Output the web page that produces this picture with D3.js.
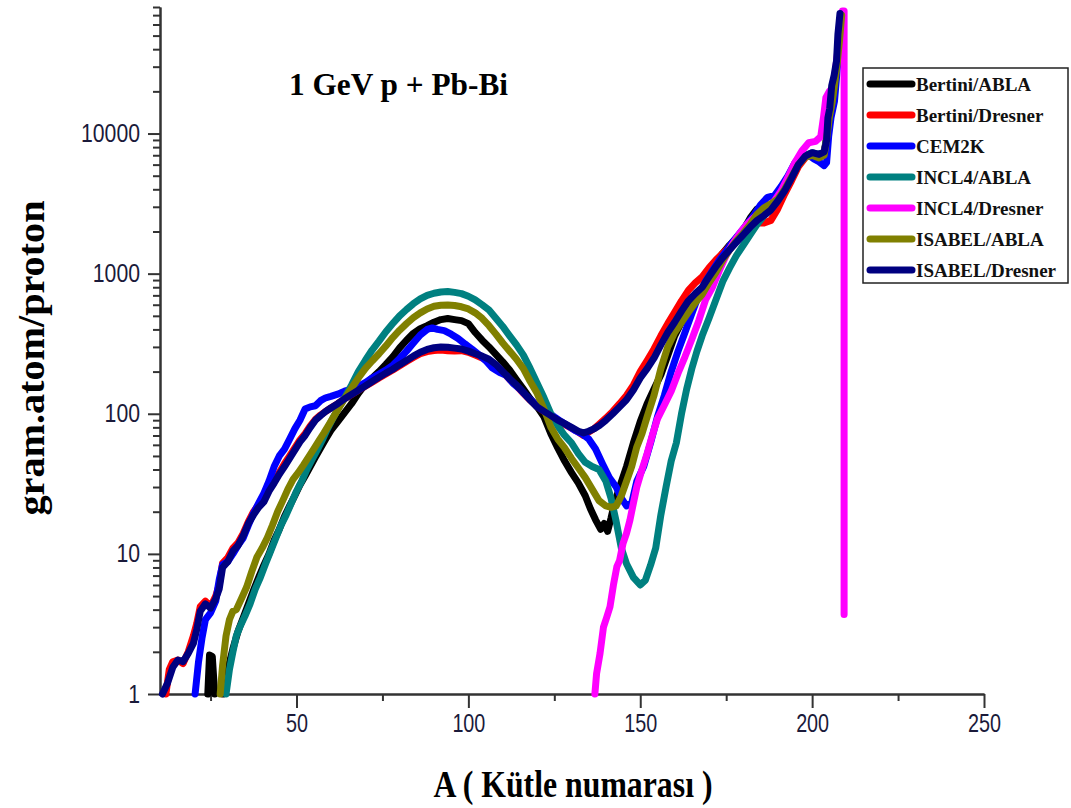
<!DOCTYPE html>
<html lang="tr">
<head>
<meta charset="UTF-8">
<title>1 GeV p + Pb-Bi</title>
<script src="https://d3js.org/d3.v7.min.js"></script>
<style>
  body { margin: 0; background: #fff; }
</style>
</head>
<body>
<div id="chart"></div>
<script>

// mass distributions, [A, gram.atom/proton]
var bertiniAbla = [[24.2,1],[24.7,1.9],[25.5,1.85],[26.2,1],[26.2,null],[28.6,1],[30,1.5],[31.5,2.1],[33,2.8],[34.5,3.5],[36,4.4],[37.5,5.5],[39,6.8],[40.5,8.3],[42,10],[43.5,12.5],[45,15],[46.5,18.5],[48,22],[49.5,26],[51,31],[52.5,36],[54,42],[55.5,49],[57,57],[58.5,66],[60,76],[62,88],[64,102],[66,118],[68,140],[70,162],[72,180],[74,200],[76,225],[78,255],[80,295],[82,335],[84,375],[86,405],[88,425],[90,450],[92,470],[94,478],[96,470],[98,462],[100,440],[102,380],[104,335],[106,300],[108,265],[110,235],[112,205],[114,175],[116,150],[118,128],[120,112],[122,95],[124,72],[126,57],[128,46],[130,38],[132,32],[134,26],[135.5,21],[137,17.5],[138.5,15],[139.5,16.5],[140.5,14.5],[141.5,18],[142.5,23],[144,30],[146,42],[148,62],[150,88],[152,118],[154,150],[156,190],[158,260],[160,360],[162,450],[164,540],[166,640],[168,760],[170,1000],[172,1200],[174,1400],[176,1600],[178,1800],[180,2050],[182,2500],[184,2900],[186,2950],[188,3050],[190,3300],[192,3900],[194,4800],[196,6000],[198,6800],[200,7100],[202,6900],[203.5,7200],[204.3,9500],[205,13000],[205.8,16500],[206.6,23000],[207.3,32000],[208,47000],[208.6,70000]]

var bertiniDresner = [[12,1],[13,1.5],[14,1.7],[15.5,1.75],[17,1.65],[18.5,2.0],[20,2.6],[21,3.2],[22,4.2],[23.5,4.6],[25,4.2],[26.5,5.0],[27.5,6],[28.5,8.6],[30,9.4],[31.5,11],[33,12],[34.5,14],[36,17],[37.5,20],[39,22.5],[40.5,24.5],[42,29],[43.5,33],[45,38],[46.5,44],[48,50],[49.5,57],[51,65],[52.5,72],[54,82],[55.5,91],[57,98],[58.5,104],[60,110],[62,118],[64,128],[66,137],[68,147],[70,157],[72,168],[74,180],[76,192],[78,205],[80,220],[82,236],[84,252],[86,268],[88,278],[90,283],[92,285],[94,282],[96,280],[98,282],[100,275],[102,262],[104,250],[106,240],[108,220],[110,198],[112,176],[114,158],[116,140],[118,125],[120,113],[122,104],[124,97],[126,90],[128,84],[130,79],[132,74],[133.5,70],[135,74],[136.5,78],[138,84],[140,93],[142,104],[144,118],[146,135],[148,160],[150,200],[152,240],[154,290],[156,360],[158,440],[160,530],[162,640],[164,760],[166,860],[168,950],[170,1100],[172,1250],[174,1400],[176,1560],[178,1760],[180,1950],[182,2150],[184,2300],[186,2300],[188,2400],[190,2900],[192,3700],[194,4600],[196,5800],[198,6700],[200,7200],[202,7000],[203.5,7300],[204.3,9500],[205,13000],[205.8,16500],[206.6,23000],[207.3,32000],[208,47000],[208.6,70000]]

var cem2k = [[20.5,1],[21.5,1.7],[22.5,2.5],[23.5,3.4],[25,3.8],[26.5,4.6],[27.5,6.5],[28.5,8.4],[30,8.8],[31.5,10],[33,11.5],[34.5,13],[36,16],[37.5,19.5],[39,23],[40.5,27],[42,33],[43.5,42],[45,50],[46.5,56],[48,66],[49.5,78],[51,90],[52.5,108],[54,112],[55.5,114],[57,124],[58.5,130],[60,133],[62,138],[64,145],[66,150],[68,157],[70,167],[72,180],[74,192],[76,205],[78,222],[80,248],[82,280],[84,320],[86,365],[88,400],[89.5,410],[91,400],[93,392],[95,370],[97,345],[99,315],[101,290],[103,265],[105,240],[107,212],[109,198],[111,188],[113,165],[115,150],[117,133],[119,120],[121,112],[123,103],[125,95],[127,88],[129,82],[131,76],[133,72],[135,66],[137,56],[139,44],[141,35],[143,30],[144.5,25],[146,22],[147.5,23],[149,33],[151,42],[153,62],[155,95],[157,135],[159,200],[161,280],[163,380],[165,520],[167,700],[169,880],[171,1050],[173,1250],[175,1450],[177,1700],[179,1950],[181,2250],[183,2600],[185,3100],[187,3500],[189,3600],[191,4200],[193,5000],[195,6200],[197,7000],[199,7000],[200.5,6600],[202,6300],[203.5,5900],[204.2,6200],[204.8,9500],[205.5,13000],[206.5,17000],[207.2,27000],[207.8,40000],[208.4,65000]]

var incl4Abla = [[29.5,1],[30.5,1.5],[31.5,2.0],[32.5,2.6],[33.5,3.0],[35,3.6],[36.5,4.4],[38,5.6],[39.5,6.8],[41,8.5],[42.5,10.5],[44,13],[45.5,16],[47,19],[48.5,23],[50,28],[51.5,33],[53,40],[54.5,47],[56,55],[57.5,65],[59,78],[60.5,92],[62,108],[64,130],[66,160],[68,200],[70,240],[72,285],[74,330],[76,385],[78,440],[80,500],[82,555],[84,610],[86,660],[88,700],[90,725],[92,740],[94,745],[96,735],[98,720],[100,690],[102,650],[104,600],[106,550],[108,480],[110,420],[112,360],[114,310],[116,262],[118,210],[120,165],[122,130],[124,100],[126,82],[128,70],[130,62],[132,52],[134,45],[136,42],[138,40],[140,33],[141.5,25],[143,17],[144.5,11],[146,8.5],[148,6.8],[150,6.0],[151.5,6.5],[153,8.3],[154.5,11],[156,19],[157.5,30],[159,46],[160.5,62],[162,100],[163.5,150],[165,210],[166.5,280],[168,360],[170,480],[172,650],[174,880],[176,1100],[178,1350],[180,1600],[182,1900],[184,2250],[186,2600],[188,2900],[190,3300],[192,4000],[194,4900],[196,6100],[198,7000],[200,7300],[202,7100],[203.5,7300],[204.3,9800],[205,13500],[205.8,17000],[206.6,24000],[207.3,33000],[208,48000],[208.6,70000]]

var incl4Dresner = [[136.8,1],[137.3,1.4],[138.3,1.95],[139.3,3.0],[140.2,3.5],[141.2,4.2],[142.2,6],[143.2,8.1],[144,9],[145,11.9],[146,14],[147,17.4],[148,23],[149,30],[150.5,40],[152,52],[153.5,70],[155,92],[157,115],[159,145],[161,195],[163,255],[165,340],[167,460],[169,650],[171,800],[173,1050],[175,1350],[177,1650],[179,1950],[181,2250],[183,2500],[185,2750],[187,3000],[189,3300],[191,3900],[193,4900],[195,6200],[197,7500],[199,8600],[201,8800],[202.5,9500],[203.3,13000],[204,18000],[205,20000],[205.8,21000],[206.6,26000],[207.3,36000],[208,52000],[208.8,75000],[209.3,75000],[209.3,3.7]]

var isabelAbla = [[27.8,1],[28.5,1.6],[29.5,2.6],[30.5,3.4],[31.5,3.9],[32.5,4.0],[34,4.8],[35.5,5.8],[37,7.5],[38.5,9.5],[40,11],[41.5,13],[43,16],[44.5,20],[46,24],[47.5,29],[49,34],[50.5,38],[52,43],[53.5,49],[55,56],[56.5,64],[58,73],[59.5,84],[61,97],[62.5,112],[64,128],[66,152],[68,180],[70,210],[72,238],[74,268],[76,305],[78,350],[80,395],[82,440],[84,485],[86,525],[88,560],[90,585],[92,595],[94,598],[96,592],[98,580],[100,560],[102,525],[104,480],[106,425],[108,370],[110,320],[112,280],[114,245],[116,210],[118,170],[120,140],[122,108],[124,80],[126,66],[128,57],[130,48],[132,41],[134,35],[136,29],[138,24],[140,22],[141.5,21.5],[143,22],[144.5,26],[146,33],[147.5,42],[149,58],[150.5,72],[152,95],[154,135],[156,210],[158,300],[160,380],[162,450],[164,530],[166,620],[168,710],[170,860],[172,1020],[174,1250],[176,1480],[178,1720],[180,1950],[182,2250],[184,2650],[186,2950],[188,3150],[190,3400],[192,4000],[194,4900],[196,6000],[198,6800],[200,7000],[202,6700],[203.5,7000],[204.3,9500],[205,13000],[205.8,16500],[206.6,23000],[207.3,32000],[208,47000],[208.6,70000]]

var isabelDresner = [[11,1],[12.5,1.2],[14,1.55],[15.5,1.75],[17,1.7],[18.5,1.95],[20,2.3],[21,2.9],[22,3.9],[23.5,4.4],[25,4.1],[26.5,4.8],[27.5,5.6],[28.5,8.0],[30,8.8],[31.5,10.5],[33,11.5],[34.5,13.5],[36,16.5],[37.5,19],[39,21.5],[40.5,23.5],[42,28],[43.5,32],[45,37],[46.5,42],[48,48],[49.5,55],[51,63],[52.5,70],[54,80],[55.5,90],[57,97],[58.5,104],[60,110],[62,118],[64,128],[66,137],[68,147],[70,158],[72,170],[74,182],[76,195],[78,208],[80,224],[82,240],[84,258],[86,275],[88,288],[90,296],[92,300],[94,298],[96,294],[98,290],[100,280],[102,268],[104,258],[106,245],[108,225],[110,200],[112,178],[114,160],[116,142],[118,125],[120,112],[122,104],[124,97],[126,90],[128,85],[130,80],[132,75],[133.5,73],[135,75],[136.5,78],[138,82],[140,90],[142,100],[144,112],[146,126],[148,148],[150,180],[152,210],[154,250],[156,310],[158,380],[160,450],[162,540],[164,640],[166,720],[168,800],[170,950],[172,1120],[174,1300],[176,1480],[178,1680],[180,1900],[182,2150],[184,2400],[186,2600],[188,2850],[190,3300],[192,3900],[194,4800],[196,6000],[198,6900],[200,7300],[202,7100],[203.5,7400],[204.2,8900],[204.6,13000],[205.1,15000],[205.7,22000],[206.4,26000],[207.1,33000],[207.5,51000],[208.1,72000]]

var seriesNames = ["Bertini/ABLA", "Bertini/Dresner", "CEM2K", "INCL4/ABLA", "INCL4/Dresner", "ISABEL/ABLA", "ISABEL/Dresner"]
var seriesColors = ["#000000", "#ff0000", "#0000ff", "#008080", "#ff00ff", "#808000", "#000080"]
var seriesData = [bertiniAbla, bertiniDresner, cem2k, incl4Abla, incl4Dresner, isabelAbla, isabelDresner]

var xTicks = [50, 100, 150, 200, 250]
var xMinorTicks = [25, 75, 125, 175, 225]
var yTicks = [1, 10, 100, 1000, 10000]

var width = 1071
var height = 808

var svg = d3.select("#chart")
  .append("svg")
    .attr("width", width)
    .attr("height", height)

var x = d3.scaleLinear().domain([10, 250]).range([159, 984])
var y = d3.scaleLog().domain([1, 80000]).range([694, 7])

// minor ticks on the log axis: 2..9 of every decade
var yMinorTicks = []
for (var p = 1; p <= 10000; p *= 10) {
  for (var m = 2; m <= 9; m++) {
    if (p * m <= 80000) yMinorTicks.push(p * m)
  }
}

function styleAxis(g) {
  g.select(".domain").attr("stroke", "#333").attr("stroke-width", 2)
  g.selectAll(".tick line").attr("stroke", "#333").attr("stroke-width", 2)
}

// y axis
svg.append("g")
  .attr("transform", "translate(160,0)")
  .call(d3.axisLeft(y).tickValues(yMinorTicks).tickSize(7).tickSizeOuter(0).tickFormat(""))
  .call(styleAxis)

var yAxis = svg.append("g")
  .attr("transform", "translate(160,0)")
  .call(d3.axisLeft(y).tickValues(yTicks).tickSize(12).tickSizeOuter(0).tickPadding(8).tickFormat(d3.format("d")))
  .call(styleAxis)

yAxis.selectAll("text")
  .attr("font-family", "Liberation Sans, Arial, sans-serif")
  .attr("font-size", 25)
  .attr("fill", "#1a1a3a")
  .attr("textLength", function(d) { return String(d).length * 11.8 })
  .attr("lengthAdjust", "spacingAndGlyphs")

// x axis
svg.append("g")
  .attr("transform", "translate(0,694)")
  .call(d3.axisBottom(x).tickValues(xMinorTicks).tickSize(7).tickSizeOuter(0).tickFormat(""))
  .call(styleAxis)

var xAxis = svg.append("g")
  .attr("transform", "translate(0,694)")
  .call(d3.axisBottom(x).tickValues(xTicks).tickSize(14).tickSizeOuter(0).tickPadding(6).tickFormat(d3.format("d")))
  .call(styleAxis)

xAxis.selectAll("text")
  .attr("font-family", "Liberation Sans, Arial, sans-serif")
  .attr("font-size", 25)
  .attr("fill", "#1a1a3a")
  .attr("textLength", function(d) { return String(d).length * 11 })
  .attr("lengthAdjust", "spacingAndGlyphs")

// the curves
var line = d3.line()
  .defined(function(d) { return d[1] != null })
  .x(function(d) { return x(d[0]) })
  .y(function(d) { return y(d[1]) })

svg.append("g")
  .selectAll("path")
  .data(seriesData)
  .enter()
  .append("path")
    .attr("d", line)
    .attr("fill", "none")
    .attr("stroke", function(d, i) { return seriesColors[i] })
    .attr("stroke-width", 7)
    .attr("stroke-linejoin", "round")
    .attr("stroke-linecap", "round")

// titles
var serif = "Liberation Serif, Times New Roman, serif"

svg.append("text")
  .attr("x", 289)
  .attr("y", 95)
  .attr("font-family", serif)
  .attr("font-weight", "bold")
  .attr("font-size", 31)
  .attr("textLength", 219)
  .attr("lengthAdjust", "spacingAndGlyphs")
  .text("1 GeV p + Pb-Bi")

svg.append("text")
  .attr("transform", "translate(44,358) rotate(-90)")
  .attr("text-anchor", "middle")
  .attr("font-family", serif)
  .attr("font-weight", "bold")
  .attr("font-size", 38)
  .attr("textLength", 315)
  .attr("lengthAdjust", "spacingAndGlyphs")
  .text("gram.atom/proton")

svg.append("text")
  .attr("x", 573)
  .attr("y", 797)
  .attr("text-anchor", "middle")
  .attr("font-family", serif)
  .attr("font-weight", "bold")
  .attr("font-size", 38)
  .attr("textLength", 279)
  .attr("lengthAdjust", "spacingAndGlyphs")
  .text("A ( Kütle numarası )")

// legend
var legend = svg.append("g")

legend.append("rect")
  .attr("x", 863)
  .attr("y", 68)
  .attr("width", 205)
  .attr("height", 215)
  .attr("fill", "white")
  .attr("stroke", "#222")
  .attr("stroke-width", 1.5)

var item = legend.selectAll(".item")
  .data(seriesNames)
  .enter()
  .append("g")
    .attr("class", "item")
    .attr("transform", function(d, i) { return "translate(0," + (84 + 31 * i) + ")" })

item.append("line")
  .attr("x1", 870)
  .attr("x2", 912)
  .attr("stroke", function(d, i) { return seriesColors[i] })
  .attr("stroke-width", 7)
  .attr("stroke-linecap", "round")

item.append("text")
  .attr("x", 916)
  .attr("y", 7)
  .attr("font-family", serif)
  .attr("font-weight", "bold")
  .attr("font-size", 19)
  .attr("fill", "#111")
  .text(function(d) { return d })

</script>
</body>
</html>
